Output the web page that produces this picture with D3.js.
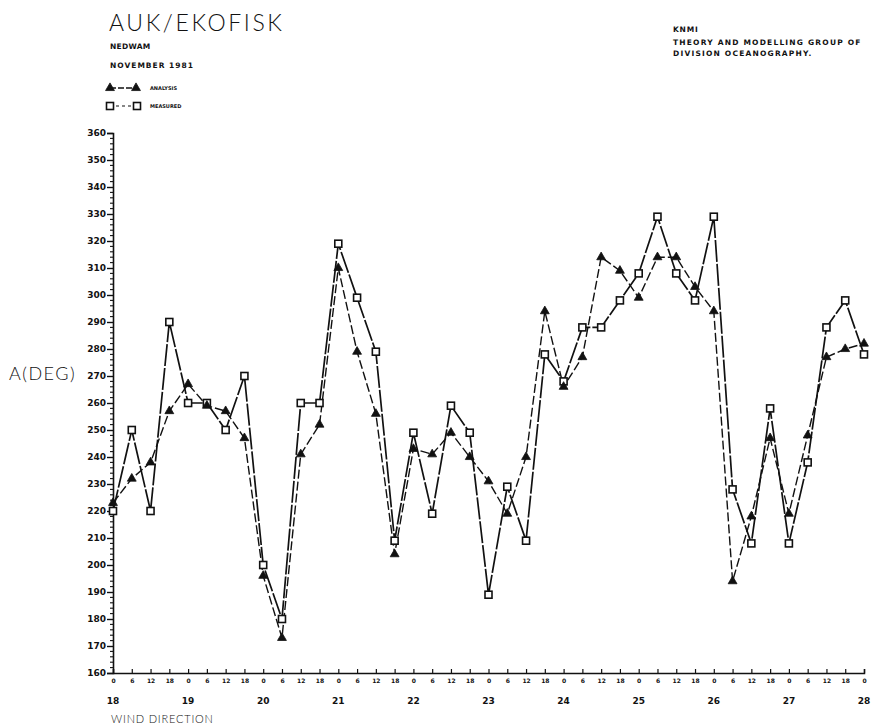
<!DOCTYPE html>
<html>
<head>
<meta charset="utf-8">
<script src="https://cdn.jsdelivr.net/npm/d3@7"></script>
<style>
  html, body { margin: 0; padding: 0; background: #fff; }
  svg { display: block; }
  .bold { font-family: "DejaVu Sans", "Liberation Sans", sans-serif; font-weight: bold; fill: #111; }
  .thin { font-family: "Lato", "DejaVu Sans", sans-serif; font-weight: 300; fill: #111; }
</style>
</head>
<body>
<svg id="chart" width="871" height="728"></svg>
<script>
// Wind direction at AUK/Ekofisk, November 1981, every 6 hours (NEDWAM hindcast vs. measurements)
const days = ["18", "19", "20", "21", "22", "23", "24", "25", "26", "27", "28"];
const hourLabels = ["0", "6", "12", "18"];
const yTicks = [160, 170, 180, 190, 200, 210, 220, 230, 240, 250, 260, 270, 280, 290, 300, 310, 320, 330, 340, 350, 360];

const analysis = [
  223, 232, 238, 257,
  267, 259, 257, 247,
  196, 173, 241, 252,
  310, 279, 256, 204,
  243, 241, 249, 240,
  231, 219, 240, 294,
  266, 277, 314, 309,
  299, 314, 314, 303,
  294, 194, 218, 247,
  219, 248, 277, 280,
  282
];
const measured = [
  220, 250, 220, 290,
  260, 260, 250, 270,
  200, 180, 260, 260,
  319, 299, 279, 209,
  249, 219, 259, 249,
  189, 229, 209, 278,
  268, 288, 288, 298,
  308, 329, 308, 298,
  329, 228, 208, 258,
  208, 238, 288, 298,
  278
];

const svg = d3.select("#chart");
const x0 = 113, x1 = 864, yTop = 133, yBot = 673;

// step index (6-hour intervals from 18 Nov 00h)
const x = d3.scaleLinear().domain([0, (days.length - 1) * 4]).range([x0, x1]);
const y = d3.scaleLinear().domain([160, 360]).range([yBot, yTop]);

// ---- header texts
svg.append("text").attr("class", "thin").attr("x", 109).attr("y", 31)
  .attr("font-size", 23).attr("letter-spacing", 2.6).text("AUK/EKOFISK");
svg.append("text").attr("class", "bold").attr("x", 110).attr("y", 49)
  .attr("font-size", 7.5).attr("letter-spacing", 0.3).text("NEDWAM");
svg.append("text").attr("class", "bold").attr("x", 110).attr("y", 68)
  .attr("font-size", 7.5).attr("letter-spacing", 1).text("NOVEMBER 1981");

svg.append("text").attr("class", "bold").attr("x", 673).attr("y", 32)
  .attr("font-size", 7.5).attr("letter-spacing", 0.8).text("KNMI");
svg.append("text").attr("class", "bold").attr("x", 673).attr("y", 45)
  .attr("font-size", 7.5).attr("letter-spacing", 1.2).text("THEORY AND MODELLING GROUP OF");
svg.append("text").attr("class", "bold").attr("x", 673).attr("y", 56)
  .attr("font-size", 7.5).attr("letter-spacing", 1.2).text("DIVISION OCEANOGRAPHY.");

// ---- marker shapes
const triPath = d3.symbol().type(d3.symbolTriangle).size(34);
const sqSize = 7;

function triangle(g, cx, cy) {
  g.append("path").attr("d", triPath()).attr("transform", `translate(${cx},${cy})`)
    .attr("fill", "#111").attr("stroke", "#111").attr("stroke-width", 0.8);
}
function square(g, cx, cy) {
  g.append("rect").attr("x", cx - sqSize / 2).attr("y", cy - sqSize / 2)
    .attr("width", sqSize).attr("height", sqSize)
    .attr("fill", "#fff").attr("stroke", "#111").attr("stroke-width", 1.6);
}

const styleA = { width: 1.4, dash: "9,3" };
const styleM = { width: 1.7, dash: "22,2" };

// ---- legend
const lg = svg.append("g");
lg.append("line").attr("x1", 110).attr("x2", 136).attr("y1", 88).attr("y2", 88)
  .attr("stroke", "#111").attr("stroke-width", styleA.width).attr("stroke-dasharray", "6,2");
triangle(lg, 110, 88); triangle(lg, 136, 88);
lg.append("text").attr("class", "bold").attr("x", 150).attr("y", 90)
  .attr("font-size", 5).text("ANALYSIS");
lg.append("line").attr("x1", 110).attr("x2", 137).attr("y1", 106).attr("y2", 106)
  .attr("stroke", "#111").attr("stroke-width", 1.2).attr("stroke-dasharray", "3,3");
square(lg, 110, 106); square(lg, 137, 106);
lg.append("text").attr("class", "bold").attr("x", 150).attr("y", 108)
  .attr("font-size", 5).text("MEASURED");

// ---- y axis
const yAxis = d3.axisLeft(y).tickValues(yTicks).tickSize(6).tickPadding(1).tickFormat(d3.format("d"));
const gy = svg.append("g").attr("transform", `translate(${x0},0)`).call(yAxis);
gy.select(".domain").attr("stroke", "#111").attr("stroke-width", 1.6);
gy.selectAll(".tick line").attr("stroke", "#111").attr("stroke-width", 1.4);
gy.selectAll(".tick text").attr("class", "bold").attr("font-size", 9).attr("fill", "#111")
  .attr("font-family", "DejaVu Sans, sans-serif").attr("font-weight", "bold");
// minor ticks every 2 degrees
const minor = d3.range(160, 361, 2).filter(v => v % 10 !== 0);
svg.append("g").selectAll("line").data(minor).join("line")
  .attr("x1", x0 - 3).attr("x2", x0).attr("y1", d => y(d)).attr("y2", d => y(d))
  .attr("stroke", "#111").attr("stroke-width", 1.1);

svg.append("text").attr("class", "thin").attr("x", 9).attr("y", 380)
  .attr("font-size", 18).attr("letter-spacing", 1.5).text("A(DEG)");

// ---- x axis
const steps = d3.range(0, (days.length - 1) * 4 + 1);
const xAxis = d3.axisBottom(x).tickValues(steps).tickSize(-4).tickPadding(6)
  .tickFormat(i => hourLabels[i % 4]);
const gx = svg.append("g").attr("transform", `translate(0,${yBot})`).call(xAxis);
gx.select(".domain").attr("stroke", "#111").attr("stroke-width", 1.5);
gx.selectAll(".tick line").attr("stroke", "#111").attr("stroke-width", 1.2);
gx.selectAll(".tick text").attr("font-size", 6).attr("fill", "#111")
  .attr("font-family", "DejaVu Sans, sans-serif").attr("font-weight", "bold");

svg.append("g").selectAll("text").data(days).join("text")
  .attr("class", "bold").attr("font-size", 9).attr("text-anchor", "middle")
  .attr("x", (d, i) => x(i * 4)).attr("y", 704).text(d => d);

svg.append("text").attr("class", "thin").attr("x", 111).attr("y", 723)
  .attr("font-size", 11).attr("letter-spacing", 0.8).attr("font-weight", 400).text("WIND DIRECTION");

// ---- series
const line = d3.line().x((d, i) => x(i)).y(d => y(d));

svg.append("path").datum(measured).attr("d", line).attr("fill", "none")
  .attr("stroke", "#111").attr("stroke-width", styleM.width)
  .attr("stroke-dasharray", styleM.dash).attr("stroke-linejoin", "round");
svg.append("path").datum(analysis).attr("d", line).attr("fill", "none")
  .attr("stroke", "#111").attr("stroke-width", styleA.width)
  .attr("stroke-dasharray", styleA.dash).attr("stroke-linejoin", "round");

const gm = svg.append("g");
measured.forEach((v, i) => square(gm, x(i), y(v)));
const ga = svg.append("g");
analysis.forEach((v, i) => triangle(ga, x(i), y(v)));
</script>
</body>
</html>
